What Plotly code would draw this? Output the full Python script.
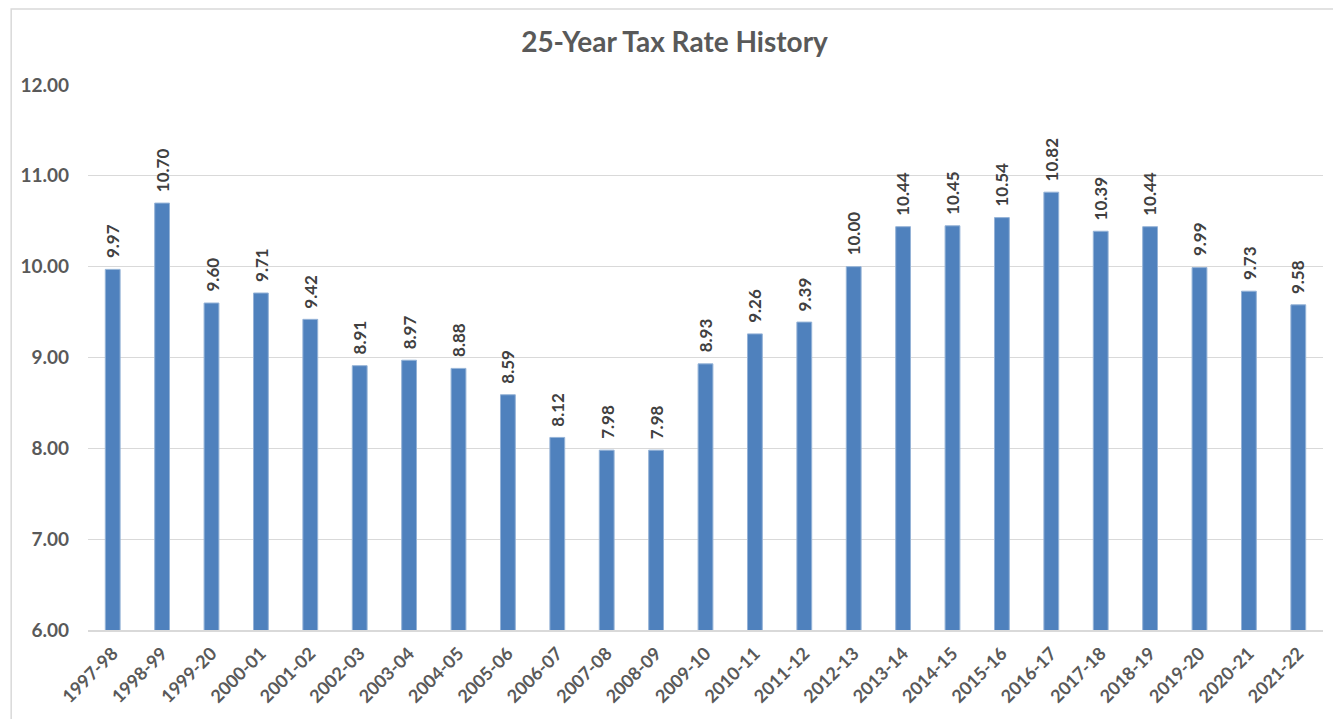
import plotly.graph_objects as go

# fiscal years and tax rate values
years = ["1997-98", "1998-99", "1999-20", "2000-01", "2001-02", "2002-03", "2003-04",
         "2004-05", "2005-06", "2006-07", "2007-08", "2008-09", "2009-10", "2010-11",
         "2011-12", "2012-13", "2013-14", "2014-15", "2015-16", "2016-17", "2017-18",
         "2018-19", "2019-20", "2020-21", "2021-22"]
tax_rates = [9.97, 10.70, 9.60, 9.71, 9.42, 8.91, 8.97, 8.88, 8.59, 8.12, 7.98, 7.98,
             8.93, 9.26, 9.39, 10.00, 10.44, 10.45, 10.54, 10.82, 10.39, 10.44, 9.99,
             9.73, 9.58]

font_family = "Lato, 'Open Sans', sans-serif"
grey = "#595959"

fig = go.Figure(go.Bar(
    x=years,
    y=tax_rates,
    marker=dict(color="#4F81BD", line=dict(color="#95B3D7", width=1)),
    hovertemplate="%{x}: %{y:.2f}<extra></extra>",
))

# value labels, rotated, sitting above each bar
for yr, rate in zip(years, tax_rates):
    fig.add_annotation(
        x=yr, y=rate, text=f"<b>{rate:.2f}</b>",
        textangle=-90, showarrow=False,
        xanchor="center", yanchor="bottom", yshift=9,
        font=dict(family=font_family, size=17, color="#404040"),
    )

# page body adds an 8px offset, so the figure is a bit smaller than the window
fig.update_layout(
    width=1333, height=711,
    margin=dict(l=78, r=18, t=77, b=89),
    paper_bgcolor="white",
    plot_bgcolor="white",
    bargap=0.7,
    showlegend=False,
    title=dict(text="<b>25-Year Tax Rate History</b>", x=0.5, xanchor="center",
               y=0.952, yanchor="middle", yref="container",
               font=dict(family=font_family, size=28, color=grey)),
    font=dict(family=font_family, color=grey),
)

fig.update_yaxes(
    range=[6, 12], dtick=1, tickformat=".2f",
    showgrid=True, gridcolor="#D9D9D9", gridwidth=1,
    zeroline=False, showline=False,
    ticks="", ticklabelstandoff=18,
    tickfont=dict(family=font_family, size=19, color=grey, weight="bold"),
)
fig.update_xaxes(
    type="category",
    showline=True, linecolor="#D9D9D9", linewidth=2,
    tickangle=-45, ticks="", ticklabelstandoff=4,
    tickfont=dict(family=font_family, size=18, color=grey, weight="bold"),
)

# chart frame
fig.add_shape(type="rect", xref="paper", yref="paper",
              x0=-0.0622, x1=1.0186, y0=-0.171, y1=1.1394,
              line=dict(color="#D9D9D9", width=1.5), layer="below")

fig.write_html("out.html")
